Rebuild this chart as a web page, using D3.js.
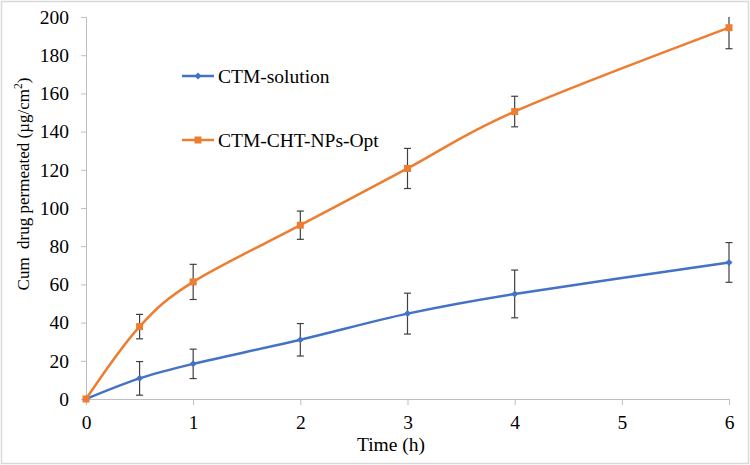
<!DOCTYPE html>
<html><head><meta charset="utf-8">
<script src="https://cdn.jsdelivr.net/npm/d3@7"></script>
<style>body{margin:0;background:#fff}svg text{font-family:"Liberation Serif","Times New Roman",serif;fill:#000}</style>
</head><body>
<script>
const times = [0, 0.5, 1, 2, 3, 4, 6];
const solution = [0, 10.8, 18.4, 31, 44.7, 55, 71.5];
const solutionErr = [0, 8.8, 7.7, 8.5, 10.7, 12.5, 10.4];
const nps = [0, 37.9, 61.3, 91, 120.7, 150.5, 194.4];
const npsErr = [0, 6.4, 9.2, 7.4, 10.5, 8, 11];
const seriesNames = ["CTM-solution", "CTM-CHT-NPs-Opt"];
const xTicks = [0, 1, 2, 3, 4, 5, 6];
const yTicks = [0, 20, 40, 60, 80, 100, 120, 140, 160, 180, 200];

const W = 750, H = 465;
const FS = 19.5;
const svg = d3.select("body").append("svg").attr("width", W).attr("height", H);
svg.append("rect").attr("x", 1.5).attr("y", 1.5).attr("width", W - 3).attr("height", H - 3)
  .attr("fill", "#fff").attr("stroke", "#d9d9d9").attr("stroke-width", 1.5);

const x = d3.scaleLinear().domain([0, 6]).range([86, 729]);
const y = d3.scaleLinear().domain([0, 200]).range([399, 17]);
const axisColor = "#bfbfbf";

// y axis
const gy = svg.append("g").attr("transform", `translate(${x(0)},0)`)
  .call(d3.axisLeft(y).tickValues(yTicks).tickSize(5).tickPadding(12));
gy.select(".domain").attr("stroke", axisColor);
gy.selectAll(".tick line").attr("stroke", axisColor);
gy.selectAll(".tick text").attr("font-size", FS);

// x axis
const gx = svg.append("g").attr("transform", `translate(0,${y(0)})`)
  .call(d3.axisBottom(x).tickValues(xTicks).tickSize(6).tickPadding(10).tickFormat(d3.format("d")));
gx.select(".domain").attr("stroke", axisColor);
gx.selectAll(".tick line").attr("stroke", axisColor);
gx.selectAll(".tick text").attr("font-size", FS);

// titles
svg.append("text").attr("x", 391).attr("y", 451).attr("text-anchor", "middle")
  .attr("font-size", FS).text("Time (h)");
const yt = svg.append("text").attr("transform", "translate(29,184) rotate(-90)")
  .attr("text-anchor", "middle").attr("font-size", 17).attr("xml:space", "preserve");
yt.append("tspan").text("Cum  drug permeated (µg/cm");
yt.append("tspan").attr("font-size", 11.5).attr("dy", -7).text("2");
yt.append("tspan").attr("dy", 7).text(")");

const series = [
  {name: seriesNames[0], vals: solution, err: solutionErr, color: "#4472C4", marker: "diamond"},
  {name: seriesNames[1], vals: nps, err: npsErr, color: "#ED7D31", marker: "square"}
];

const line = d3.line().x(d => x(d[0])).y(d => y(d[1])).curve(d3.curveCardinal.tension(0));

series.forEach(s => {
  const pts = times.map((t, i) => [t, s.vals[i], s.err[i]]);
  svg.append("path").datum(pts).attr("d", line).attr("fill", "none")
    .attr("stroke", s.color).attr("stroke-width", 2.5);
});

// error bars
series.forEach(s => {
  times.forEach((t, i) => {
    if (!s.err[i]) return;
    const hi = Math.min(200, s.vals[i] + s.err[i]);
    const lo = Math.max(0, s.vals[i] - s.err[i]);
    const g = svg.append("g").attr("stroke", "#404040").attr("stroke-width", 1.2);
    g.append("line").attr("x1", x(t)).attr("x2", x(t)).attr("y1", y(hi)).attr("y2", y(lo));
    if (s.vals[i] + s.err[i] <= 200)
      g.append("line").attr("x1", x(t) - 3.5).attr("x2", x(t) + 3.5).attr("y1", y(hi)).attr("y2", y(hi));
    g.append("line").attr("x1", x(t) - 3.5).attr("x2", x(t) + 3.5).attr("y1", y(lo)).attr("y2", y(lo));
  });
});

function marker(g, type, cx, cy, color) {
  if (type === "square") {
    g.append("rect").attr("x", cx - 3.5).attr("y", cy - 3.5).attr("width", 7).attr("height", 7).attr("fill", color);
  } else {
    g.append("path").attr("d", `M${cx},${cy - 3.5}L${cx + 3.5},${cy}L${cx},${cy + 3.5}L${cx - 3.5},${cy}Z`).attr("fill", color);
  }
}

series.forEach(s => {
  const g = svg.append("g");
  times.forEach((t, i) => marker(g, s.marker, x(t), y(s.vals[i]), s.color));
});

// legend
const legY = [76, 140];
series.forEach((s, i) => {
  const g = svg.append("g");
  g.append("line").attr("x1", 182).attr("x2", 214).attr("y1", legY[i]).attr("y2", legY[i])
    .attr("stroke", s.color).attr("stroke-width", 2.5);
  marker(g, s.marker, 198, legY[i], s.color);
  g.append("text").attr("x", 218).attr("y", legY[i] + 7).attr("font-size", FS).text(s.name);
});
</script>
</body></html>
